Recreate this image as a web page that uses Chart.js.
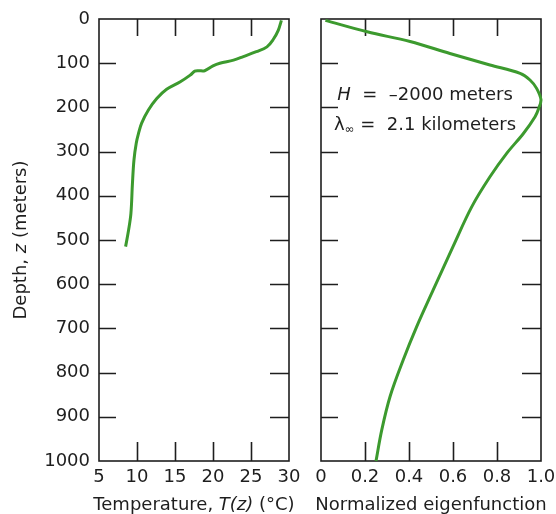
<!DOCTYPE html>
<html>
<head>
<meta charset="utf-8">
<script src="https://cdn.jsdelivr.net/npm/chart.js@4.4.1/dist/chart.umd.min.js"></script>
<style>
    html, body { margin: 0; padding: 0; background: #fff; overflow: hidden; }
    #painel { position: relative; width: 556px; height: 514px; }
    #tempChart { position: absolute; left: 0; top: 0; }
    #eigenChart { position: absolute; left: 300px; top: 0; }
</style>
</head>
<body>
<div id="painel">
    <canvas id="tempChart" width="300" height="514"></canvas>
    <canvas id="eigenChart" width="256" height="514"></canvas>
</div>
<script>
// --- Dados ---
// Perfil de temperatura (painel esquerdo)
const profundidadeTemp = [3, 25, 47, 63, 74, 85, 93, 100, 106, 117, 117, 118, 127, 142, 159, 180, 206, 236, 259, 281, 319, 372, 440, 477, 515];
const temperatura = [29.0, 28.6, 27.9, 27.1, 25.7, 24.0, 22.7, 20.9, 20.0, 18.9, 18.1, 17.6, 17.0, 15.7, 13.9, 12.6, 11.5, 10.6, 10.2, 9.9, 9.6, 9.4, 9.2, 8.9, 8.5];

// Autofunção normalizada (painel direito)
const profundidadeAuto = [3, 29, 51, 78, 104, 123, 138, 157, 183, 202, 221, 259, 304, 357, 425, 515, 613, 696, 771, 854, 930, 1000];
const autofuncao = [0.02, 0.21, 0.405, 0.586, 0.768, 0.905, 0.95, 0.98, 1.0, 0.99, 0.973, 0.92, 0.844, 0.768, 0.685, 0.60, 0.51, 0.435, 0.374, 0.314, 0.276, 0.25];

// Textos
const tituloTemp = [{ t: 'Temperature, ' }, { t: 'T(z)', i: true }, { t: ' (°C)' }];
const tituloAuto = [{ t: 'Normalized eigenfunction' }];
const tituloProf = [{ t: 'Depth, ' }, { t: 'z', i: true }, { t: ' (meters)' }];
const notaH = [{ t: 'H', i: true }, { t: '  =  –2000 meters' }];
const notaLambda = [{ t: 'λ' }, { t: '∞', s: 12, dy: 5 }, { t: ' =  2.1 kilometers' }];

const VERDE = '#3c9a2e';
const TINTA = '#1e1e1e';
const FONTE = 'DejaVu Sans';

Chart.defaults.font.family = FONTE;
Chart.defaults.font.size = 18;
Chart.defaults.color = TINTA;

/**
 * Escreve um texto com trechos em itálico / subscrito, centrado em (cx, cy).
 */
function escreverRico(ctx, partes, cx, cy, tamanho) {
    const fonteDe = p => `${p.i ? 'italic ' : ''}${p.s || tamanho}px "${FONTE}"`;
    let largura = 0;
    partes.forEach(p => { ctx.font = fonteDe(p); largura += ctx.measureText(p.t).width; });
    let x = cx - largura / 2;
    ctx.fillStyle = TINTA;
    ctx.textBaseline = 'middle';
    ctx.textAlign = 'left';
    partes.forEach(p => {
        ctx.font = fonteDe(p);
        ctx.fillText(p.t, x, cy + (p.dy || 0));
        x += ctx.measureText(p.t).width;
    });
}

// Moldura com marcas de escala para dentro, nos quatro lados
const molduraPlugin = {
    id: 'moldura',
    beforeDatasetsDraw(chart) {
        const { ctx, chartArea: a, scales } = chart;
        ctx.save();
        ctx.strokeStyle = TINTA;
        ctx.lineWidth = 1.6;
        ctx.strokeRect(a.left, a.top, a.right - a.left, a.bottom - a.top);
        ctx.beginPath();
        scales.x.ticks.slice(1, -1).forEach(t => {
            const px = Math.round(scales.x.getPixelForValue(t.value)) + 0.5;
            ctx.moveTo(px, a.top); ctx.lineTo(px, a.top + 17);
            ctx.moveTo(px, a.bottom); ctx.lineTo(px, a.bottom - 19);
        });
        scales.y.ticks.slice(1, -1).forEach(t => {
            const py = Math.round(scales.y.getPixelForValue(t.value)) + 0.5;
            ctx.moveTo(a.left, py); ctx.lineTo(a.left + 17, py);
            ctx.moveTo(a.right, py); ctx.lineTo(a.right - 19, py);
        });
        ctx.stroke();
        ctx.restore();
    },
    afterDraw(chart, args, opts) {
        const { ctx, chartArea: a } = chart;
        ctx.save();
        escreverRico(ctx, opts.tituloX, (a.left + a.right) / 2, 505, 18);
        if (opts.tituloY) {
            ctx.save();
            ctx.translate(21, (a.top + a.bottom) / 2);
            ctx.rotate(-Math.PI / 2);
            escreverRico(ctx, opts.tituloY, 0, 0, 18);
            ctx.restore();
        }
        (opts.notas || []).forEach(n => escreverRico(ctx, n.partes, n.x, n.y, 18));
        ctx.restore();
    }
};

function montarPontos(xs, ys) {
    return xs.map((x, i) => ({ x: x, y: ys[i] }));
}

// Zera o espaço extra que o Chart.js reserva para os rótulos das pontas
function semFolga(s) {
    s.paddingLeft = 0; s.paddingRight = 0;
    s.paddingTop = 0; s.paddingBottom = 0;
}

function opcoesEixoY(mostrar) {
    return {
        type: 'linear', min: 0, max: 1000, reverse: true, display: mostrar,
        ticks: { stepSize: 100, padding: 9, autoSkip: false, callback: v => String(v) },
        grid: { display: false, drawTicks: false },
        border: { display: false },
        afterFit: s => { s.width = mostrar ? 99 : 0; semFolga(s); }
    };
}

function opcoesEixoX(min, max, passo, formatar) {
    return {
        type: 'linear', min: min, max: max,
        ticks: { stepSize: passo, padding: 6, maxRotation: 0, autoSkip: false, callback: formatar || (v => String(v)) },
        grid: { display: false, drawTicks: false },
        border: { display: false },
        afterFit: s => { s.height = 53; semFolga(s); }
    };
}

function criarGrafico(canvas, pontos, eixoX, mostrarY, padding, deco) {
    return new Chart(canvas, {
        type: 'line',
        data: {
            datasets: [{
                data: pontos,
                borderColor: VERDE,
                borderWidth: 3,
                pointRadius: 0,
                tension: 0.35,
                fill: false,
                clip: false
            }]
        },
        options: {
            responsive: false,
            animation: false,
            devicePixelRatio: 1,
            parsing: false,
            layout: { padding: padding, autoPadding: false },
            scales: { x: eixoX, y: opcoesEixoY(mostrarY) },
            plugins: { legend: { display: false }, tooltip: { enabled: false }, moldura: deco }
        },
        plugins: [molduraPlugin]
    });
}

// --- Painel esquerdo: temperatura ---
criarGrafico(
    document.getElementById('tempChart'),
    montarPontos(temperatura, profundidadeTemp),
    opcoesEixoX(5, 30, 5),
    true,
    { top: 19, right: 11, left: 0, bottom: 0 },
    { tituloX: tituloTemp, tituloY: tituloProf }
);

// --- Painel direito: autofunção normalizada ---
criarGrafico(
    document.getElementById('eigenChart'),
    montarPontos(autofuncao, profundidadeAuto),
    opcoesEixoX(0, 1, 0.2, v => (v === 0 ? '0' : v.toFixed(1))),
    false,
    { top: 19, right: 15, left: 21, bottom: 0 },
    {
        tituloX: tituloAuto,
        notas: [
            { partes: notaH, x: 125, y: 95 },
            { partes: notaLambda, x: 125, y: 125 }
        ]
    }
);
</script>
</body>
</html>
